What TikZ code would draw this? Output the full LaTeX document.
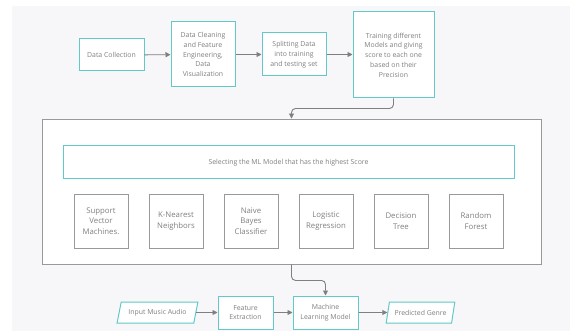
\documentclass[tikz,border=0pt]{standalone}
\usepackage{fontspec}
\setmainfont{Open Sans}
\usetikzlibrary{arrows.meta,shapes.geometric}
\definecolor{teal1}{HTML}{62C8C8}
\definecolor{txt}{HTML}{808080}
\definecolor{edge}{HTML}{7F7F7F}
\definecolor{bg}{HTML}{F7F7F9}
\begin{document}
\begin{tikzpicture}[x=1pt,y=-1pt,
  stepbox/.style={draw=teal1,line width=1pt,fill=white,text=txt,align=center,inner sep=1pt,font=\fontsize{6.9}{9.8}\selectfont},
  modelbox/.style={draw=edge!80,line width=0.9pt,fill=white,text=txt,align=center,inner sep=1pt,minimum width=54,minimum height=54,font=\fontsize{7.8}{10.6}\selectfont},
  iobox/.style={stepbox,trapezium,trapezium left angle=69,trapezium right angle=111,trapezium stretches=true,minimum height=21},
  flow/.style={draw=edge,line width=0.9pt,rounded corners=4pt,-{Triangle[length=5pt,width=5pt]}}]
\useasboundingbox (0,0) rectangle (570,331);
\fill[bg] (12,6) rectangle (570,331);
\node[stepbox,minimum width=65,minimum height=32] (dc) at (111.5,55) {Data Collection};
\node[stepbox,minimum width=64,minimum height=65] (clean) at (203,54.5) {Data Cleaning\\and Feature\\Engineering,\\Data\\Visualization};
\node[stepbox,minimum width=64,minimum height=43] (split) at (294,54.5) {Splitting Data\\into training\\and testing set};
\node[stepbox,minimum width=81,minimum height=86] (train) at (393.5,55) {Training different\\Models and giving\\score to each one\\based on their\\Precision};
\node[draw=edge!80,line width=0.9pt,fill=white,minimum width=499,minimum height=145] (big) at (291.5,191.5) {};
\node[stepbox,minimum width=451,minimum height=33] (sel) at (288.5,162.5) {Selecting the ML Model that has the highest Score};
\node[modelbox] (svm) at (101,221) {Support\\Vector\\Machines.};
\node[modelbox] (knn) at (176,221) {K-Nearest\\Neighbors};
\node[modelbox] (nb) at (251,221) {Naive\\Bayes\\Classifier};
\node[modelbox] (lr) at (326,221) {Logistic\\Regression};
\node[modelbox] (dt) at (401,221) {Decision\\Tree};
\node[modelbox] (rf) at (476,221) {Random\\Forest};
\node[iobox,minimum width=81] (in) at (157.5,312.5) {Input Music Audio};
\node[stepbox,minimum width=55,minimum height=33] (fe) at (245.5,312.5) {Feature\\Extraction};
\node[stepbox,minimum width=65,minimum height=33] (ml) at (325.5,312.5) {Machine\\Learning Model};
\node[iobox,minimum width=69] (out) at (420.5,312.5) {Predicted Genre};
\draw[flow] (dc) -- (clean); \draw[flow] (clean) -- (split); \draw[flow] (split.east) -- (split.east -| train.west);
\draw[flow] (train.south) -- ++(0,10) -| (big.north);
\draw[flow] (big.south) -- ++(0,16) -| (ml.north);
\draw[flow] (in) -- (fe); \draw[flow] (fe) -- (ml); \draw[flow] (ml) -- (out);
\end{tikzpicture}
\end{document}
